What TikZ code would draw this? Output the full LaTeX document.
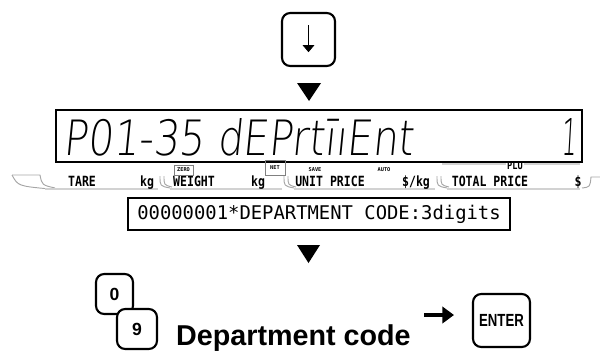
\documentclass[tikz,border=0pt]{standalone}
\usepackage{fontspec}
\setmainfont{Liberation Sans}
\newfontfamily\segfont[FakeSlant=0.12]{DejaVu Sans ExtraLight}
\newfontfamily\lcdfont{DejaVu Sans Mono}
\newfontfamily\barfont[FakeStretch=0.82]{DejaVu Sans Mono}
\usetikzlibrary{arrows.meta}
\tikzset{
  key/.style={draw, line width=1.8pt, rounded corners=7pt, fill=white, inner sep=0pt},
  keylbl/.style={font=\bfseries\fontsize{15}{15}\selectfont},
  barlbl/.style={font=\barfont\bfseries\fontsize{12}{12}\selectfont, inner sep=0pt, anchor=base},
  tinylbl/.style={font=\lcdfont\bfseries\fontsize{4.5}{5}\selectfont, inner sep=0.8pt},
  tab/.style={draw=gray!70, line width=0.8pt},
  base/.style={draw=gray!35, line width=2pt},
}
\begin{document}
\begin{tikzpicture}[x=0.03cm,y=-0.03cm]
\useasboundingbox (0,0) rectangle (600,351);
% down key
\node[key, minimum width=1.59cm, minimum height=1.59cm] (down) at (308.5,39.5) {};
\draw[line width=0.7pt, -{Triangle[length=6pt,width=10pt]}] ([yshift=0.43cm]down.center) -- ([yshift=-0.38cm]down.center);
\fill (297,83) -- (321,83) -- (309,101) -- cycle;
% PLU bar behind the display
\draw[base, line width=2.5pt] (442,164) -- (580,164);
\node[tinylbl, fill=white, font=\barfont\bfseries\fontsize{9}{9}\selectfont] (plu) at (515,166) {PLU};
% display
\draw[line width=1pt, fill=white] (56,110) rectangle (582,162);
\node[anchor=base west, inner sep=0pt] (seg) at (63,155) {\resizebox{10.5cm}{1.11cm}{\segfont P01-35 dEPrt\=\i\i Ent}};
\node[anchor=base east, inner sep=0pt] (segno) at (577,155) {\resizebox{0.45cm}{1.11cm}{\segfont 1}};
% bar row
\draw[tab] (12,175) -- (40,175) .. controls (42,185) .. (55,188);
\draw[tab] (12,175) .. controls (18,186) .. (50,189);
\foreach \a/\b in {45/158, 170/282, 294/435, 447/580}
  \draw[base] (\a,189) -- (\b,189);
\foreach \s in {160,284,437} {
  \draw[tab] (\s,176) .. controls (\s,186) .. (\s+10,188);
  \draw[tab] (\s+4,176) .. controls (\s+4,185) .. (\s+12,187);
}
\draw[tab] (582,188) .. controls (590,187) .. (591,177) -- (600,177);
\node[barlbl] (tare) at (82,186) {TARE};
\node[barlbl] (kga) at (147,186) {kg};
\node[barlbl] (weight) at (194,186) {WEIGHT};
\node[barlbl] (kgb) at (258,186) {kg};
\node[barlbl] (unit) at (330,186) {UNIT PRICE};
\node[barlbl] (perkg) at (416,186) {\$/kg};
\node[barlbl] (total) at (490,186) {TOTAL PRICE};
\node[barlbl] (dollar) at (578,186) {\$};
\node[tinylbl, draw=gray, minimum width=0.57cm, minimum height=0.3cm] (zero) at (183.5,170) {ZERO};
\node[tinylbl, draw=gray, minimum width=0.6cm, minimum height=0.45cm] (net) at (275,167.5) {NET};
\node[tinylbl] (save) at (315,170) {SAVE};
\node[tinylbl] (auto) at (384,170) {AUTO};
% message line
\node[draw, line width=1.2pt, minimum width=11.46cm, minimum height=0.96cm, font=\lcdfont\fontsize{16.1}{16.1}\selectfont] (msg) at (319,214) {00000001*DEPARTMENT CODE:3digits};
\fill (297,245) -- (320,245) -- (308.5,263) -- cycle;
% keys
\node[key, minimum width=1.11cm, minimum height=1.2cm, keylbl] (k0) at (114.5,294) {0};
\node[key, minimum width=1.2cm, minimum height=1.2cm, keylbl] (k9) at (137,329) {9};
\node[anchor=base west, inner sep=0pt, font=\bfseries\fontsize{24.5}{24.5}\selectfont] (dept) at (176,345) {Department code};
\node[key, minimum width=1.71cm, minimum height=1.59cm, font=\bfseries\fontsize{15}{15}\selectfont] (enter) at (501.5,320.5) {\scalebox{0.75}[1]{ENTER}};
\coordinate (arrA) at (424,315);
\coordinate (arrB) at (454,315);
\draw[line width=3.5pt, -{Triangle[length=10pt,width=14pt]}] (arrA) -- (arrB);
\end{tikzpicture}
\end{document}
